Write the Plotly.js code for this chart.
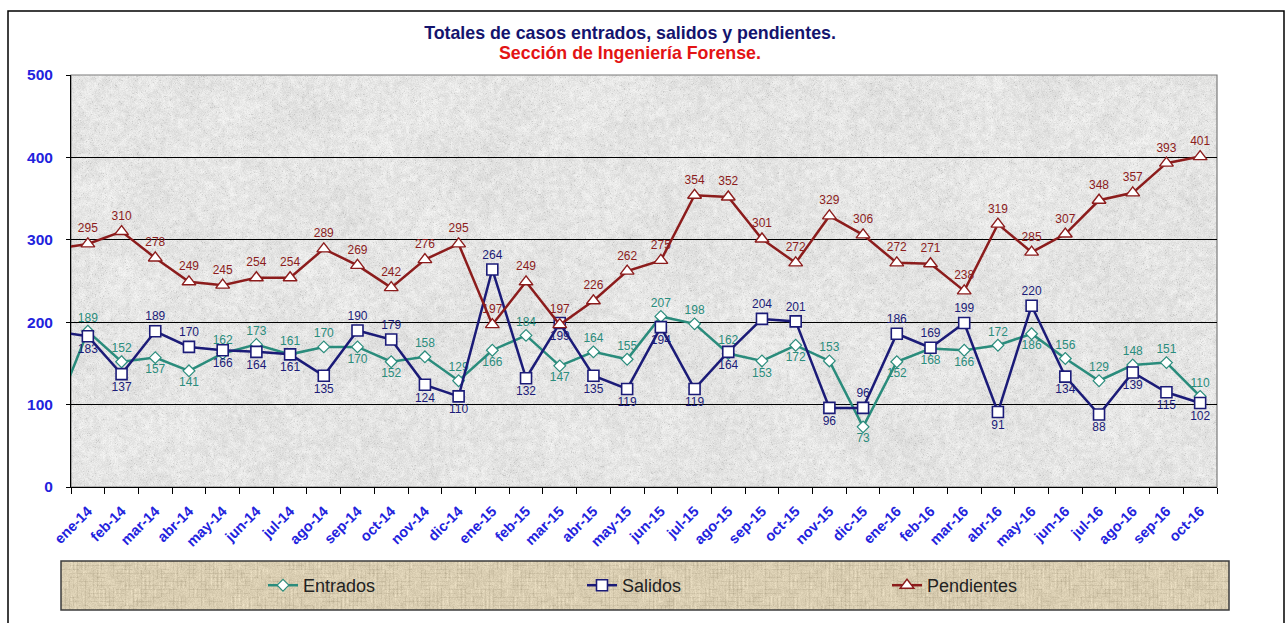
<!DOCTYPE html>
<html>
<head>
<meta charset="utf-8">
<script src="https://cdn.plot.ly/plotly-3.0.1.min.js"></script>
<style>
  html, body { margin: 0; padding: 0; background: #ffffff; }
  #chart { width: 1287px; height: 623px; }
</style>
</head>
<body>
<div id="chart"></div>
<script>
// ---- Data ----
const months = ['dic-13',
  'ene-14','feb-14','mar-14','abr-14','may-14','jun-14','jul-14','ago-14','sep-14','oct-14','nov-14','dic-14',
  'ene-15','feb-15','mar-15','abr-15','may-15','jun-15','jul-15','ago-15','sep-15','oct-15','nov-15','dic-15',
  'ene-16','feb-16','mar-16','abr-16','may-16','jun-16','jul-16','ago-16','sep-16','oct-16'];

const entrados = [87,
  189,152,157,141,162,173,161,170,170,152,158,129,
  166,184,147,164,155,207,198,162,153,172,153,73,
  152,168,166,172,186,156,129,148,151,110];

const salidos = [189,
  183,137,189,170,166,164,161,135,190,179,124,110,
  264,132,199,135,119,194,119,164,204,201,96,96,
  186,169,199,91,220,134,88,139,115,102];

const pendientes = [289,
  295,310,278,249,245,254,254,289,269,242,276,295,
  197,249,197,226,262,275,354,352,301,272,329,306,
  272,271,238,319,285,307,348,357,393,401];

// label placement (T = above, B = below)
const entradosPos = 'T TTBBTTTTBBTT BTBTTTTTBBTB BBBTBTTTTT'.replace(/ /g,'');
const salidosPos  = 'B BBTTBBBBTTBB TBBBBBBBTTBT TTTBTBBBBB'.replace(/ /g,'');

// ---- Styles ----
const FONT = 'Liberation Sans, Arial, sans-serif';
const C_ENT = '#2a8c7c', C_SAL = '#1b1b78', C_PEN = '#8c1c1c';
const BLUE = '#2222dd';

function labels(vals) { return vals.map((v, i) => i === 0 ? '' : String(v)); }
function positions(code) { return code.split('').map(c => c === 'T' ? 'top center' : 'bottom center'); }

// ---- Decorative textures (deterministic hash noise) ----
function hash(x, y, s) {
  let n = Math.imul(x, 374761393) + Math.imul(y, 668265263) + Math.imul(s, 2147483647);
  n = Math.imul(n ^ (n >>> 13), 1274126177);
  n = n ^ (n >>> 16);
  return (n >>> 0) / 4294967295;
}
function smooth(x, y, cell, s) {
  const gx = Math.floor(x / cell), gy = Math.floor(y / cell);
  const fx = (x % cell) / cell, fy = (y % cell) / cell;
  const a = hash(gx, gy, s), b = hash(gx + 1, gy, s), c = hash(gx, gy + 1, s), d = hash(gx + 1, gy + 1, s);
  const top = a + (b - a) * fx, bot = c + (d - c) * fx;
  return top + (bot - top) * fy;
}
function granite(w, h) {
  const cv = document.createElement('canvas'); cv.width = w; cv.height = h;
  const ctx = cv.getContext('2d'); const img = ctx.createImageData(w, h);
  for (let y = 0; y < h; y++) for (let x = 0; x < w; x++) {
    let v = 229 + (hash(x, y, 1) - 0.5) * 16 + (smooth(x, y, 4, 2) - 0.5) * 16 + (smooth(x, y, 40, 3) - 0.5) * 8;
    if (hash(x, y, 4) < 0.035) v -= 20;
    v = Math.max(170, Math.min(250, v));
    const i = (y * w + x) * 4;
    img.data[i] = v; img.data[i + 1] = v; img.data[i + 2] = v - 1; img.data[i + 3] = 255;
  }
  ctx.putImageData(img, 0, 0); return cv.toDataURL('image/png');
}
function burlap(w, h) {
  const cv = document.createElement('canvas'); cv.width = w; cv.height = h;
  const ctx = cv.getContext('2d'); const img = ctx.createImageData(w, h);
  for (let y = 0; y < h; y++) for (let x = 0; x < w; x++) {
    let v = (hash(x, y, 7) - 0.5) * 16 + (smooth(x, y, 5, 8) - 0.5) * 12;
    if (x % 4 === 0 && hash(x, Math.floor(y / 9), 9) < 0.5) v -= 12;
    if (y % 4 === 0 && hash(Math.floor(x / 9), y, 10) < 0.5) v -= 12;
    if (x % 4 === 2 && hash(x, Math.floor(y / 7), 11) < 0.3) v += 10;
    const i = (y * w + x) * 4;
    img.data[i] = 218 + v; img.data[i + 1] = 206 + v; img.data[i + 2] = 178 + v; img.data[i + 3] = 255;
  }
  ctx.putImageData(img, 0, 0); return cv.toDataURL('image/png');
}

// ---- Traces ----
const traces = [
  {
    name: 'Entrados', x: months, y: entrados, type: 'scatter', mode: 'lines+markers+text',
    text: labels(entrados), textposition: positions(entradosPos),
    textfont: { family: FONT, size: 12, color: C_ENT },
    line: { color: C_ENT, width: 2.5 },
    marker: { symbol: 'diamond', size: 9, color: '#ffffff', line: { color: C_ENT, width: 1.2 } },
    legend: 'legend', hoverinfo: 'x+y'
  },
  {
    name: 'Salidos', x: months, y: salidos, type: 'scatter', mode: 'lines+markers+text',
    text: labels(salidos), textposition: positions(salidosPos),
    textfont: { family: FONT, size: 12, color: C_SAL },
    line: { color: C_SAL, width: 2.5 },
    marker: { symbol: 'square', size: 11, color: '#ffffff', line: { color: C_SAL, width: 1.6 } },
    legend: 'legend2', hoverinfo: 'x+y'
  },
  {
    name: 'Pendientes', x: months, y: pendientes, type: 'scatter', mode: 'lines+markers+text',
    text: labels(pendientes), textposition: 'top center',
    textfont: { family: FONT, size: 12, color: C_PEN },
    line: { color: C_PEN, width: 2.5 },
    marker: { symbol: 'triangle-up', size: 12, color: '#ffffff', line: { color: C_PEN, width: 1.4 } },
    legend: 'legend3', hoverinfo: 'x+y'
  }
];

// ---- Layout helpers (pixel -> paper) ----
const L = 71, R = 70, T = 75, B = 136, W = 1287, H = 623;
const PW = W - L - R, PH = H - T - B;
const px = v => (v - L) / PW;
const py = v => (T + PH - v) / PH;

const legendBase = {
  orientation: 'h', xanchor: 'left', yanchor: 'middle', y: py(585.5),
  bgcolor: 'rgba(0,0,0,0)', borderwidth: 0,
  font: { family: FONT, size: 18, color: '#222222' }
};

const layout = {
  width: W, height: H,
  margin: { l: L, r: R, t: T, b: B, pad: 0 },
  paper_bgcolor: '#ffffff', plot_bgcolor: 'rgba(0,0,0,0)',
  font: { family: FONT },
  title: {
    text: 'Totales de casos entrados, salidos y pendientes.',
    font: { family: FONT, size: 17.8, weight: 'bold', color: '#14146e' },
    x: 630 / W, xanchor: 'center', y: 1 - 33 / H, yanchor: 'middle', yref: 'container'
  },
  annotations: [{
    text: 'Sección de Ingeniería Forense.', showarrow: false,
    xref: 'paper', yref: 'paper', x: px(630), y: py(53), xanchor: 'center', yanchor: 'middle',
    font: { family: FONT, size: 17.8, weight: 'bold', color: '#e31414' }
  }],
  xaxis: {
    type: 'category', categoryorder: 'array', categoryarray: months,
    range: [0.5, 34.5], tickson: 'boundaries', ticks: 'outside', ticklen: 6, tickcolor: '#000',
    tickangle: -45, ticklabelstandoff: 9,
    tickfont: { family: FONT, size: 14.5, weight: 'bold', color: BLUE },
    showline: true, linecolor: '#000', linewidth: 1, showgrid: false, zeroline: false,
    fixedrange: true
  },
  yaxis: {
    range: [0, 500], tickmode: 'array', tickvals: [0, 100, 200, 300, 400, 500],
    ticks: 'outside', ticklen: 4, tickcolor: '#000', ticklabelstandoff: 10,
    tickfont: { family: FONT, size: 15.5, weight: 'bold', color: BLUE },
    showline: true, linecolor: '#000', linewidth: 1,
    showgrid: true, gridcolor: '#000', gridwidth: 1, zeroline: false, fixedrange: true
  },
  legend:  Object.assign({}, legendBase, { x: px(263) }),
  legend2: Object.assign({}, legendBase, { x: px(582) }),
  legend3: Object.assign({}, legendBase, { x: px(887) }),
  images: [
    { source: granite(PW, PH), xref: 'paper', yref: 'paper', x: 0, y: 1, sizex: 1, sizey: 1,
      sizing: 'stretch', layer: 'below', xanchor: 'left', yanchor: 'top' },
    { source: burlap(1168, 49), xref: 'paper', yref: 'paper', x: px(61), y: py(561),
      sizex: (1229 - 61) / PW, sizey: (610 - 561) / PH, sizing: 'stretch', layer: 'below',
      xanchor: 'left', yanchor: 'top' }
  ],
  shapes: [
    { type: 'rect', xref: 'paper', yref: 'paper', x0: 0, x1: 1, y0: 0, y1: 1,
      line: { color: '#7a7a7a', width: 1.2 }, layer: 'below' },
    { type: 'rect', xref: 'paper', yref: 'paper', x0: px(61), x1: px(1229), y0: py(610), y1: py(561),
      line: { color: '#3c3c3c', width: 1.5 }, layer: 'below' },
    { type: 'rect', xref: 'paper', yref: 'paper', x0: px(8), x1: px(1284), y0: py(640), y1: py(11),
      line: { color: '#000000', width: 1.5 }, layer: 'below' }
  ],
  showlegend: true
};

Plotly.newPlot('chart', traces, layout, { displayModeBar: false, staticPlot: true });
</script>
</body>
</html>
